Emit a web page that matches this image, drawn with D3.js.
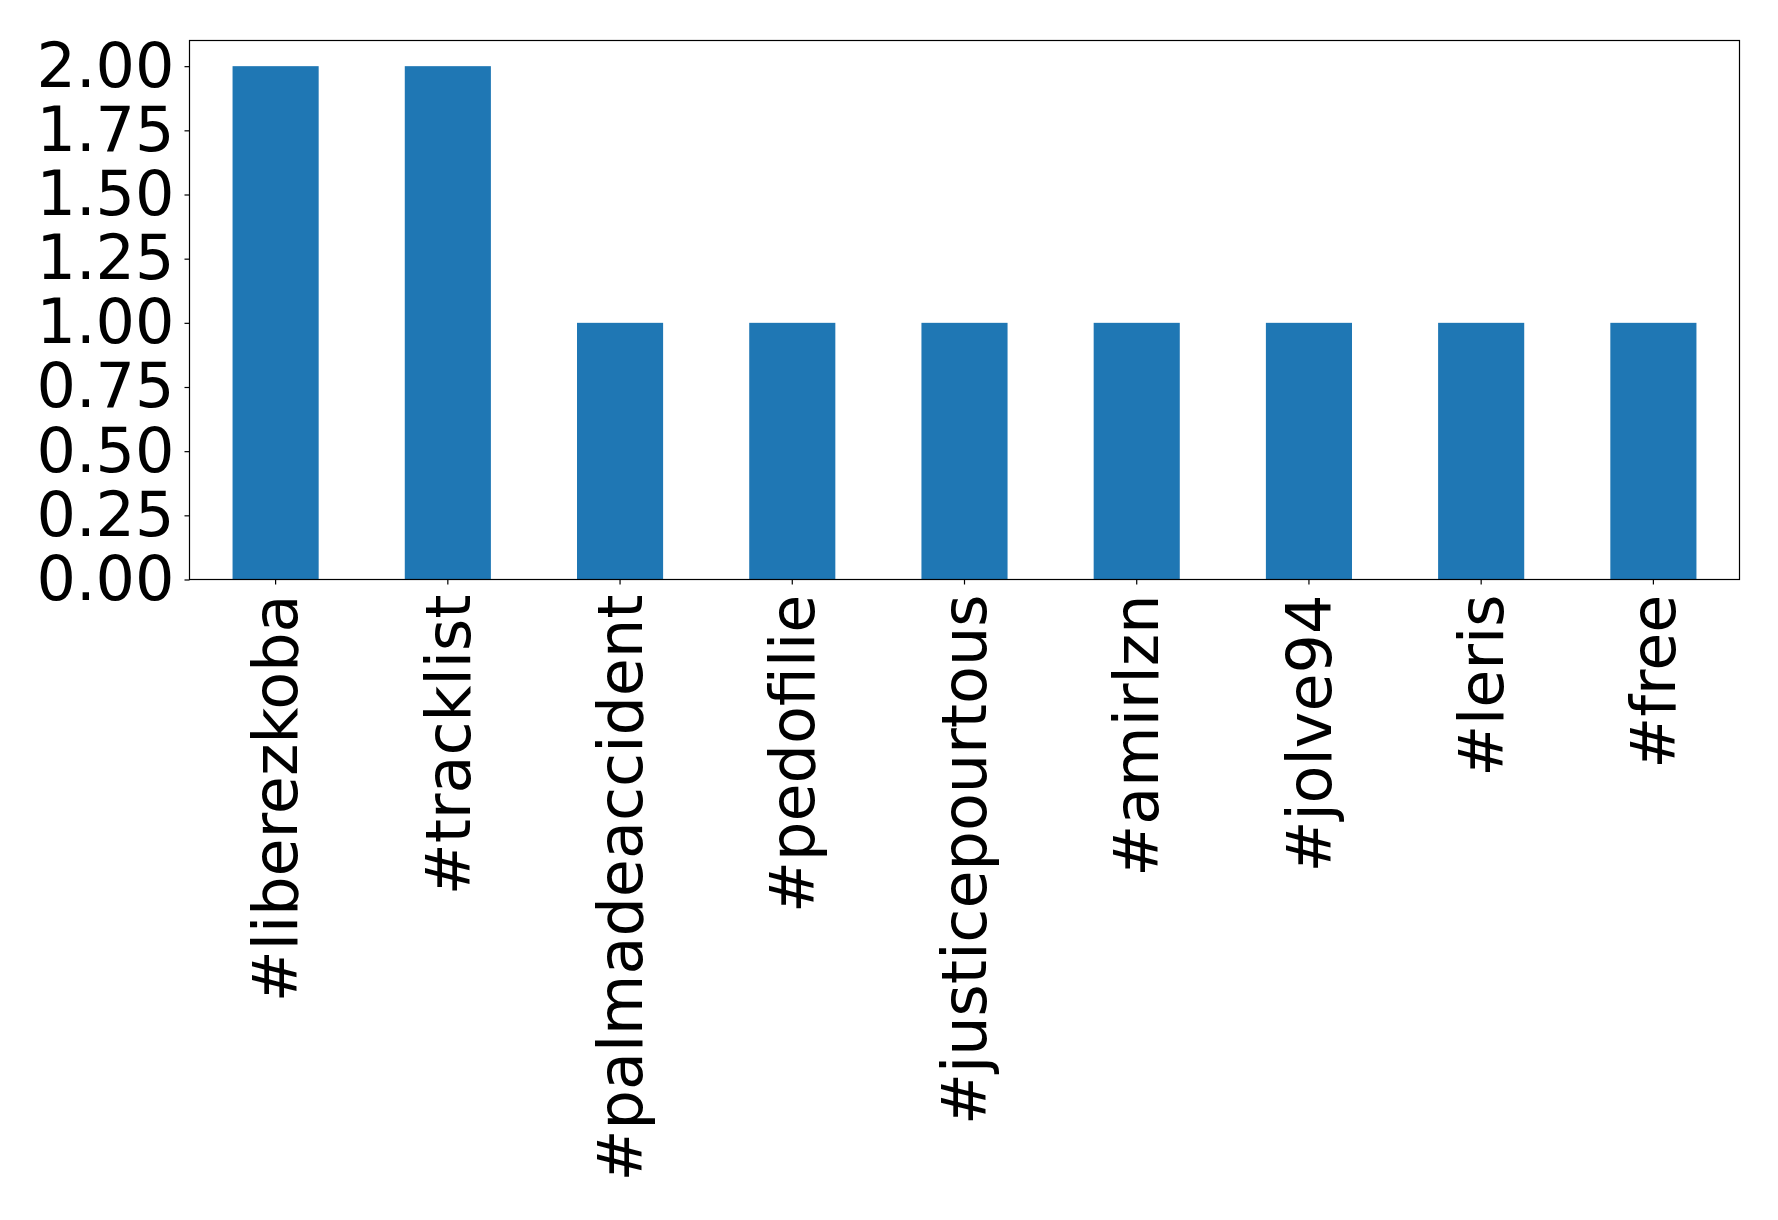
<!DOCTYPE html>
<html><head><meta charset="utf-8">
<script src="https://cdn.jsdelivr.net/npm/d3@7"></script>
<style>body{margin:0;background:#fff}svg{display:block}</style>
</head><body>
<script>
const categories = ["#liberezkoba","#tracklist","#palmadeaccident","#pedofilie","#justicepourtous","#amirlzn","#jolve94","#leris","#free"];
const values = [2,2,1,1,1,1,1,1,1];
const yTicks = [0,0.25,0.5,0.75,1.0,1.25,1.5,1.75,2.0];

const W=1778,H=1220;
const L=189.5,R=1739.5,T=40.5,B=579.5;
const svg=d3.select("body").append("svg").attr("width",W).attr("height",H);
const x=d3.scaleBand().domain(categories).range([L,R]).paddingInner(0.5).paddingOuter(0.25);
const y=d3.scaleLinear().domain([0,2.1]).range([B,T]);
const font="'DejaVu Sans', sans-serif";
const fs=62;

svg.append("g").selectAll("rect").data(categories).join("rect")
  .attr("x",d=>x(d)).attr("width",x.bandwidth())
  .attr("y",(d,i)=>y(values[i])).attr("height",(d,i)=>y(0)-y(values[i]))
  .attr("fill","#1f77b4");

const ya=svg.append("g").attr("transform",`translate(${L},0)`)
  .call(d3.axisLeft(y).tickValues(yTicks).tickFormat(d3.format(".2f")).tickSize(5).tickPadding(10));
ya.select(".domain").remove();
ya.selectAll("text").attr("font-family",font).attr("font-size",fs).attr("fill","#000");
ya.selectAll("line").attr("stroke","#000").attr("stroke-width",1.2);

const xa=svg.append("g").attr("transform",`translate(0,${B})`)
  .call(d3.axisBottom(x).tickSize(5).tickPadding(0));
xa.select(".domain").remove();
xa.selectAll("line").attr("stroke","#000").attr("stroke-width",1.2);
xa.selectAll("text").attr("font-family",font).attr("font-size",fs).attr("fill","#000")
  .attr("transform","translate(0,15) rotate(-90)").attr("text-anchor","end")
  .attr("x",0).attr("y",0).attr("dy","0.35em");

svg.append("rect").attr("x",L).attr("y",T).attr("width",R-L).attr("height",B-T)
  .attr("fill","none").attr("stroke","#000").attr("stroke-width",1.2);
</script>
</body></html>
